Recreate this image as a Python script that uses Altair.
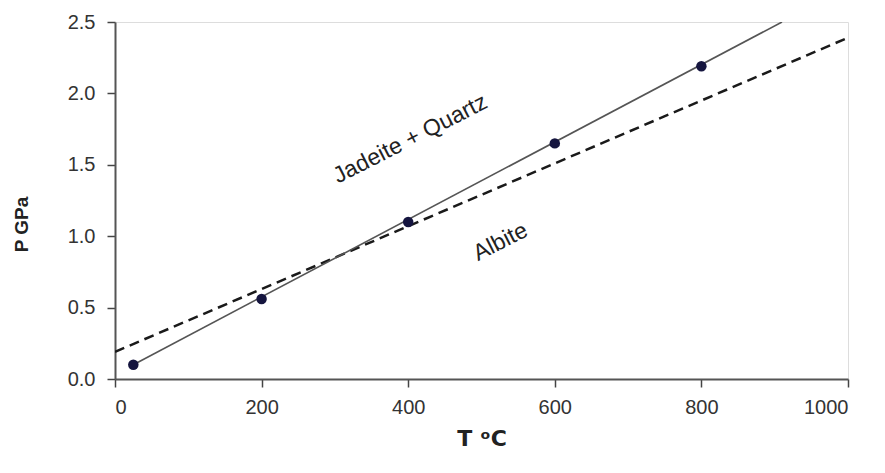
import altair as alt
import pandas as pd

# measured points
pts_T = [25, 200, 400, 600, 800]
pts_P = [0.10, 0.56, 1.10, 1.65, 2.19]

# solid reaction line (through the points)
fit_T = [25, 910]
fit_P = [0.10, 2.50]

# dashed reaction line
dash_T = [0, 1000]
dash_P = [0.19, 2.39]

# field labels
lab_text = ["Jadeite + Quartz", "Albite"]
lab_T = [403, 526]
lab_P = [1.68, 0.96]

x_ticks = [0, 200, 400, 600, 800, 1000]
y_ticks = [0.0, 0.5, 1.0, 1.5, 2.0, 2.5]

pts = pd.DataFrame({"T": pts_T, "P": pts_P})
fit = pd.DataFrame({"T": fit_T, "P": fit_P})
dash = pd.DataFrame({"T": dash_T, "P": dash_P})
labs = pd.DataFrame({"T": lab_T, "P": lab_P, "text": lab_text})

FONT = "Liberation Sans"

xs = alt.Scale(domain=[0, 1000], nice=False)
ys = alt.Scale(domain=[0, 2.5], nice=False)

xenc = alt.X("T:Q", scale=xs, axis=alt.Axis(
    title="T ᵒC", values=x_ticks, grid=False, format="d",
    labelFontSize=20, labelColor="#333333", labelFont=FONT, labelPadding=10,
    tickSize=8, tickColor="#444444", tickWidth=1.5,
    domainColor="#555555", domainWidth=2,
    titleFont="DejaVu Sans", titleFontSize=22, titleFontWeight="bold", titleColor="#222222",
    titlePadding=11))
yenc = alt.Y("P:Q", scale=ys, axis=alt.Axis(
    title="P GPa", values=y_ticks, grid=False, format=".1f",
    labelFontSize=20, labelColor="#333333", labelFont=FONT, labelPadding=12,
    tickSize=8, tickColor="#444444", tickWidth=1.5,
    domainColor="#555555", domainWidth=2,
    titleFont=FONT, titleFontSize=19, titleFontWeight="bold", titleColor="#222222",
    titlePadding=36, titleY=202))

dashed = alt.Chart(dash).mark_line(color="#1a1a1a", strokeWidth=2.5, strokeDash=[10, 6], clip=True).encode(x=xenc, y=yenc)
solid = alt.Chart(fit).mark_line(color="#555555", strokeWidth=1.6, clip=True).encode(x="T:Q", y="P:Q")
points = alt.Chart(pts).mark_circle(color="#15153f", size=110, opacity=1).encode(x="T:Q", y="P:Q")
text = alt.Chart(labs).mark_text(font=FONT, fontSize=23, angle=333, color="#222222").encode(
    x="T:Q", y="P:Q", text="text:N")

chart = alt.layer(dashed, solid, points, text).properties(
    width=733, height=357,
    autosize=alt.AutoSizeParams(type="none"),
    padding={"left": 107, "top": 14, "right": 20, "bottom": 80},
).configure_view(fill="#ebebeb", stroke="#555555", strokeWidth=2).configure(background="white")

chart.save("out.html", embed_options={"renderer": "svg", "actions": False})
